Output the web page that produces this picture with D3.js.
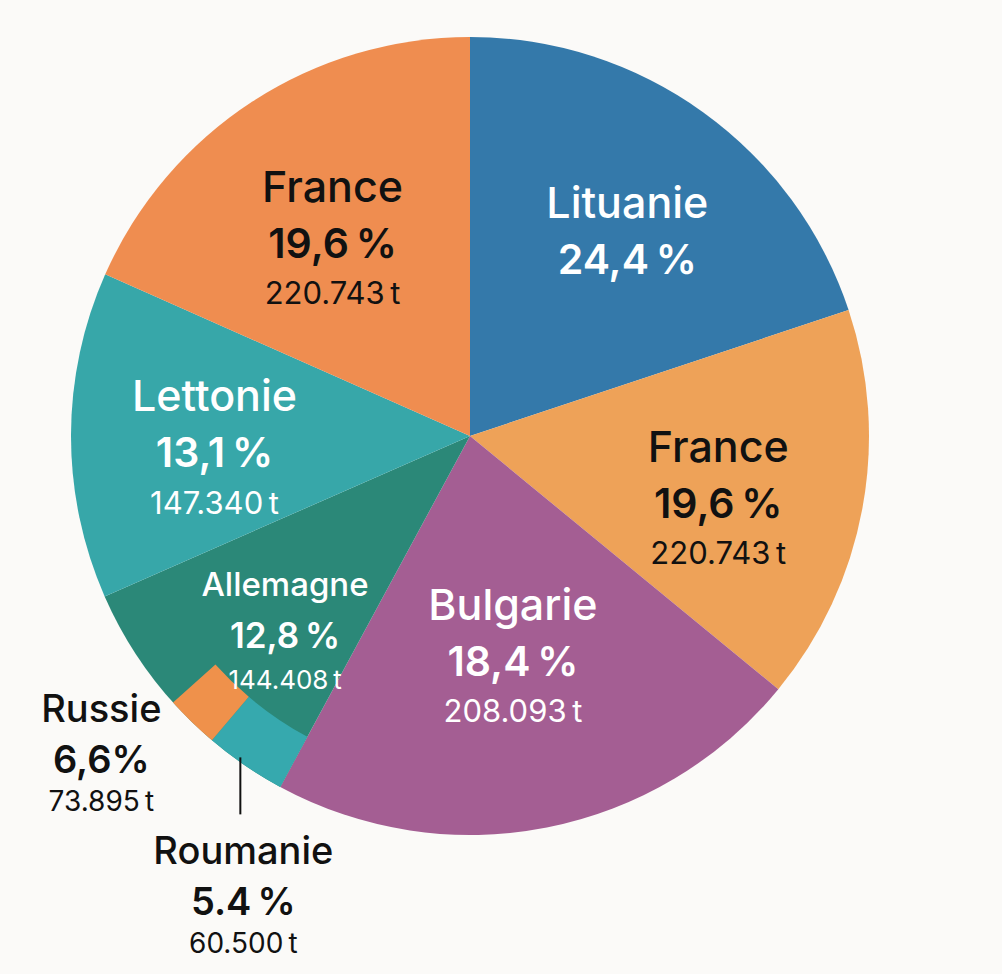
<!DOCTYPE html>
<html>
<head>
<meta charset="utf-8">
<script src="https://cdn.jsdelivr.net/npm/d3@7"></script>
<style>
  body { margin: 0; background: #fbfaf8; }
  text { font-family: Inter, Lato, "Noto Sans", sans-serif; }
</style>
</head>
<body>
<div id="chart"></div>
<script>
// Main slices, clockwise from 12 o'clock
const countries = ['Lituanie', 'France', 'Bulgarie', 'Allemagne', 'Lettonie', 'France'];
const shares = ['24,4\u202F%', '19,6\u202F%', '18,4\u202F%', '12,8\u202F%', '13,1\u202F%', '19,6\u202F%'];
const tonnes = [null, '220.743\u202Ft', '208.093\u202Ft', '144.408\u202Ft', '147.340\u202Ft', '220.743\u202Ft'];
// angular size of each slice as drawn in the picture (degrees)
const sliceSpans = [71.6, 57.8, 79.0, 37.9, 47.6, 66.1];
const sliceColors = ['#3479aa', '#eea258', '#a45e93', '#2b8878', '#37a7a9', '#ef8d50'];

// Small slices sitting on the rim of the Allemagne slice
const smallCountries = ['Roumanie', 'Russie'];
const smallShares = ['5.4\u202F%', '6,6%'];
const smallTonnes = ['60.500\u202Ft', '73.895\u202Ft'];
const smallSpans = [11.9, 7.8];
const smallColors = ['#36a9ae', '#ef914b'];

const width = 1002, height = 974;
const cx = 470, cy = 436, radius = 399, ringInner = 342;
const rad = Math.PI / 180;

const svg = d3.select('#chart')
    .append('svg')
    .attr('width', width)
    .attr('height', height);

svg.append('rect')
    .attr('width', width)
    .attr('height', height)
    .attr('fill', '#fbfaf8');

const g = svg.append('g')
    .attr('transform', `translate(${cx},${cy})`);

const pie = d3.pie().sort(null).value(d => d);
const arcs = pie(sliceSpans);

const arc = d3.arc().innerRadius(0).outerRadius(radius);

g.selectAll('path.slice')
    .data(arcs)
    .enter()
    .append('path')
    .attr('class', 'slice')
    .attr('d', arc)
    .attr('fill', (d, i) => sliceColors[i]);

// ring pieces start where Allemagne starts
const ringStart = arcs[3].startAngle;
const smallArcs = d3.pie().sort(null).value(d => d)
    .startAngle(ringStart)
    .endAngle(ringStart + d3.sum(smallSpans) * rad)(smallSpans);

const ringArc = d3.arc().innerRadius(ringInner).outerRadius(radius);

g.selectAll('path.ring')
    .data(smallArcs)
    .enter()
    .append('path')
    .attr('class', 'ring')
    .attr('d', ringArc)
    .attr('fill', (d, i) => smallColors[i]);

// polar helper (0 = up, clockwise)
const polar = (a, r) => [Math.sin(a) * r, -Math.cos(a) * r];

// label placement: [angle shift in degrees, radius]
const labelPlace = [[5.8, 237], [4.5, 257], [0.3, 229], [-4.5, 272], [-3.7, 256], [-2.4, 237]];
const labelFill = ['#fff', '#111', '#fff', '#fff', '#fff', '#111'];
const big = { name: 43, pct: 41, ton: 31, dyName: -57, dyTon: 50 };
const mid = { name: 33, pct: 35, ton: 26, dyName: -51, dyTon: 44 };

const drawLabel = (x, y, name, pct, ton, fill, s) => {
    const lg = g.append('g').attr('transform', `translate(${x},${y})`)
        .attr('fill', fill)
        .attr('text-anchor', 'middle')
        .attr('dominant-baseline', 'central');
    lg.append('text').attr('y', s.dyName)
        .style('font-size', s.name + 'px').style('font-weight', 500).text(name);
    lg.append('text').attr('y', 0)
        .style('font-size', s.pct + 'px').style('font-weight', 600).text(pct);
    if (ton) {
        lg.append('text').attr('y', s.dyTon)
            .style('font-size', s.ton + 'px').style('font-weight', 400).text(ton);
    }
};

arcs.forEach((d, i) => {
    const a = (d.startAngle + d.endAngle) / 2 + labelPlace[i][0] * rad;
    const [x, y] = polar(a, labelPlace[i][1]);
    drawLabel(x, y, countries[i], shares[i], tonnes[i], labelFill[i], i === 3 ? mid : big);
});

// outside labels for the small slices
const outer = { name: 38, pct: 38, ton: 28, dyName: -51, dyTon: 42 };

// Roumanie: leader line straight down, label below
const rm = smallArcs[0];
const [lx, ly] = polar((rm.startAngle + rm.endAngle) / 2 + 1.2 * rad, radius - 4);
g.append('line')
    .attr('x1', lx).attr('y1', ly)
    .attr('x2', lx).attr('y2', ly + 57)
    .attr('stroke', '#111')
    .attr('stroke-width', 2);
drawLabel(lx + 3, ly + 144, smallCountries[0], smallShares[0], smallTonnes[0], '#111', outer);

// Russie: label to the left of the rim
const ru = smallArcs[1];
const [rx, ry] = polar((ru.startAngle + ru.endAngle) / 2 + 4.6 * rad, 490);
drawLabel(rx, ry, smallCountries[1], smallShares[1], smallTonnes[1], '#111', outer);
</script>
</body>
</html>
